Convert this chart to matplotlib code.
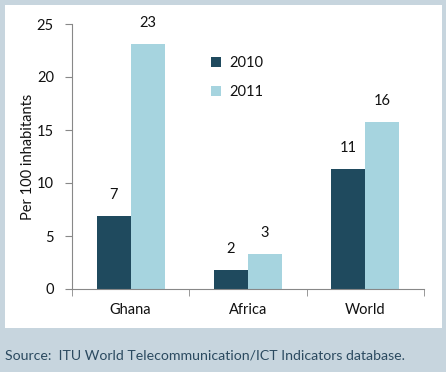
import matplotlib
matplotlib.use("Agg")
import matplotlib.pyplot as plt
from matplotlib.patches import Rectangle
import numpy as np

categories = ["Ghana", "Africa", "World"]
series_names = ["2010", "2011"]
values_2010 = [6.9, 1.8, 11.3]
values_2011 = [23.1, 3.3, 15.8]
labels_2010 = ["7", "2", "11"]
labels_2011 = ["23", "3", "16"]
yticks = [0, 5, 10, 15, 20, 25]

c_dark = "#1f4a5e"
c_light = "#a6d4df"
bg = "#c7d5de"
txt = "#111111"
fs = 10.5

plt.rcParams['font.family'] = ['Lato', 'DejaVu Sans']

fig = plt.figure(figsize=(4.46, 3.72), dpi=100, facecolor=bg)
W, H = 446, 372
fig.patches.append(Rectangle((5 / W, 1 - 328 / H), 437 / W, 323 / H,
                             transform=fig.transFigure, facecolor="white",
                             edgecolor="none", zorder=-10))

ax = fig.add_axes([72 / W, 1 - 289 / H, (424 - 72) / W, (289 - 24) / H])
ax.set_zorder(5)
ax.set_facecolor("none")

x = np.arange(len(categories))
w = 0.29
b1 = ax.bar(x - w / 2, values_2010, w, color=c_dark, label=series_names[0])
b2 = ax.bar(x + w / 2, values_2011, w, color=c_light, label=series_names[1])
for rect, lab in zip(b1, labels_2010):
    ax.text(rect.get_x() + rect.get_width() / 2, rect.get_height() + 1.3, lab,
            ha="center", va="bottom", fontsize=fs, color=txt)
for rect, lab in zip(b2, labels_2011):
    ax.text(rect.get_x() + rect.get_width() / 2, rect.get_height() + 1.3, lab,
            ha="center", va="bottom", fontsize=fs, color=txt)

ax.set_xlim(-0.5, 2.5)
ax.set_ylim(0, 25)
ax.set_yticks(yticks)
ax.set_xticks(x)
ax.set_xticklabels(categories)
ax.set_xticks([-0.5, 0.5, 1.5, 2.5], minor=True)
ax.tick_params(axis="x", which="major", length=0, pad=10, labelsize=fs, labelcolor=txt)
ax.tick_params(axis="x", which="minor", length=5, color="#888888", direction="out")
ax.tick_params(axis="y", length=5, color="#888888", direction="out", labelsize=fs,
               labelcolor=txt, pad=8)
for s in ["top", "right"]:
    ax.spines[s].set_visible(False)
ax.spines["left"].set_color("#888888")
ax.spines["bottom"].set_color("#888888")
ax.set_ylabel("Per 100 inhabitants", fontsize=fs, color=txt, labelpad=1)

leg = ax.legend(loc="upper left", bbox_to_anchor=((198 - 72) / (424 - 72), 1 - (43 - 24) / 265),
                frameon=False, fontsize=fs, handlelength=0.65, handleheight=0.65,
                labelspacing=1.05, handletextpad=0.6)
for t in leg.get_texts():
    t.set_color(txt)

fig.text(5 / W, 1 - 356 / H, "Source:  ITU World Telecommunication/ICT Indicators database.",
         fontsize=10.2, color="#2b4a60", ha="left", va="center")

fig.savefig("out.png", dpi=100, facecolor=bg)
